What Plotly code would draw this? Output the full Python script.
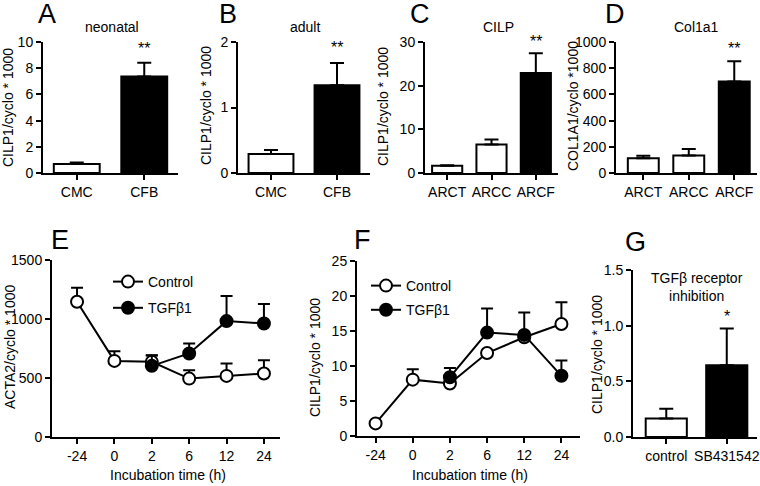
import plotly.graph_objects as go

W, H = 760, 486

# ---------------- data ----------------
a_cats = ["CMC", "CFB"]
a_vals = [0.68, 7.36]
a_err = [0.13, 1.05]

b_cats = ["CMC", "CFB"]
b_vals = [0.29, 1.34]
b_err = [0.06, 0.34]

c_cats = ["ARCT", "ARCC", "ARCF"]
c_vals = [1.65, 6.5, 22.9]
c_err = [0.1, 1.15, 4.5]

d_cats = ["ARCT", "ARCC", "ARCF"]
d_vals = [113, 134, 698]
d_err = [18, 50, 156]

g_cats = ["control", "SB431542"]
g_vals = [0.167, 0.644]
g_err = [0.087, 0.33]

time_labels = ["-24", "0", "2", "6", "12", "24"]
tgf_times = ["2", "6", "12", "24"]

e_ctrl = [1146, 645, 637, 495, 518, 538]
e_ctrl_err = [119, 82, 55, 71, 105, 113]
e_tgf = [603, 708, 982, 962]
e_tgf_err = [88, 84, 212, 165]

f_ctrl = [1.8, 8.05, 7.5, 11.85, 14.1, 16.0]
f_ctrl_err = [0, 1.5, 0.4, 0, 0, 3.1]
f_tgf = [8.4, 14.77, 14.44, 8.6]
f_tgf_err = [1.3, 3.45, 3.2, 2.2]

# significance marks: (panel, category, label, series value, series error, shift)
stars = [
    (1, "CFB", "**", a_vals[1], a_err[1], 4),
    (2, "CFB", "**", b_vals[1], b_err[1], 5),
    (3, "ARCF", "**", c_vals[2], c_err[2], 1),
    (4, "ARCF", "**", d_vals[2], d_err[2], 2),
    (5, "6", "*", e_tgf[1], e_tgf_err[1], 1),
    (5, "12", "**", e_tgf[2], e_tgf_err[2], 1),
    (5, "24", "**", e_tgf[3], e_tgf_err[3], 1),
    (6, "24", "*", f_ctrl[5], f_ctrl_err[5], 2),
    (7, "SB431542", "*", g_vals[1], g_err[1], 2),
]

FONT = "Arial, Liberation Sans, Helvetica, sans-serif"

# panel geometry in pixels
panels = {
    1: dict(x=(43, 178), y=(42, 173), xr=[-0.5, 1.5], yr=[0, 10], yt=[0, 2, 4, 6, 8, 10], fmt=None),
    2: dict(x=(238, 370), y=(42, 173), xr=[-0.5, 1.5], yr=[0, 2], yt=[0, 1, 2], fmt=None),
    3: dict(x=(425, 558), y=(42, 173), xr=[-0.5, 2.5], yr=[0, 30], yt=[0, 10, 20, 30], fmt=None),
    4: dict(x=(616, 757), y=(42, 173), xr=[-0.6, 2.5], yr=[0, 1000], yt=[0, 200, 400, 600, 800, 1000], fmt=None),
    5: dict(x=(52, 280), y=(260, 437), xr=[-0.67, 5.43], yr=[0, 1500], yt=[0, 500, 1000, 1500], fmt=None),
    6: dict(x=(357, 580), y=(261, 436), xr=[-0.5, 5.5], yr=[0, 25], yt=[0, 5, 10, 15, 20, 25], fmt=None),
    7: dict(x=(633, 757), y=(270, 437), xr=[-0.55, 1.5], yr=[0, 1.5], yt=[0, 0.5, 1.0, 1.5], fmt=".1f"),
}

fig = go.Figure()


def ax(i):
    return ("x" if i == 1 else f"x{i}"), ("y" if i == 1 else f"y{i}")


def err(arr, w=7):
    return dict(type="data", symmetric=False, array=arr, arrayminus=[0] * len(arr),
                color="black", thickness=2, width=w)


def add_bars(i, cats, vals, errs, colors):
    xa, ya = ax(i)
    fig.add_trace(go.Bar(x=cats, y=vals, error_y=err(errs), width=0.68,
                         marker=dict(color=colors, line=dict(color="black", width=2)),
                         xaxis=xa, yaxis=ya, showlegend=False))


add_bars(1, a_cats, a_vals, a_err, ["white", "black"])
add_bars(2, b_cats, b_vals, b_err, ["white", "black"])
add_bars(3, c_cats, c_vals, c_err, ["white", "white", "black"])
add_bars(4, d_cats, d_vals, d_err, ["white", "white", "black"])
add_bars(7, g_cats, g_vals, g_err, ["white", "black"])


def add_lines(i, ctrl, ctrl_err, tgf, tgf_err, legend):
    xa, ya = ax(i)
    fig.add_trace(go.Scatter(x=time_labels, y=ctrl, error_y=err(ctrl_err, 6),
                             mode="lines+markers", name="Control",
                             line=dict(color="black", width=2),
                             marker=dict(symbol="circle", size=12, color="white",
                                         line=dict(color="black", width=2)),
                             xaxis=xa, yaxis=ya, legend=legend, legendgroup=f"c{i}"))
    fig.add_trace(go.Scatter(x=tgf_times, y=tgf, error_y=err(tgf_err, 6),
                             mode="lines+markers", name="TGFβ1",
                             line=dict(color="black", width=2),
                             marker=dict(symbol="circle", size=12, color="black",
                                         line=dict(color="black", width=2)),
                             xaxis=xa, yaxis=ya, legend=legend, legendgroup=f"t{i}"))


add_lines(5, e_ctrl, e_ctrl_err, e_tgf, e_tgf_err, "legend")
add_lines(6, f_ctrl, f_ctrl_err, f_tgf, f_tgf_err, "legend2")

layout = dict(width=W, height=H, margin=dict(l=0, r=0, t=0, b=0),
              paper_bgcolor="white", plot_bgcolor="white",
              font=dict(family=FONT, size=14, color="black"),
              template="none")

for i, p in panels.items():
    xk = "xaxis" if i == 1 else f"xaxis{i}"
    yk = "yaxis" if i == 1 else f"yaxis{i}"
    xa, ya = ax(i)
    common = dict(showline=True, linecolor="black", linewidth=2, ticks="outside",
                  ticklen=5, tickwidth=2, tickcolor="black", showgrid=False,
                  zeroline=False, tickfont=dict(size=14, color="black", family=FONT),
                  fixedrange=True, ticklabeloverflow="allow")
    layout[xk] = dict(common, domain=[p["x"][0] / W, p["x"][1] / W], anchor=ya,
                      range=p["xr"], type="category")
    ydict = dict(common, domain=[1 - p["y"][1] / H, 1 - p["y"][0] / H], anchor=xa,
                 range=p["yr"], tickvals=p["yt"])
    if p["fmt"]:
        ydict["tickformat"] = p["fmt"]
    layout[yk] = ydict

layout["legend"] = dict(x=108 / W, y=1 - 266 / H, xanchor="left", yanchor="top",
                        bgcolor="rgba(0,0,0,0)", font=dict(size=14, family=FONT),
                        tracegroupgap=5, traceorder="grouped")
layout["legend2"] = dict(x=366 / W, y=1 - 270 / H, xanchor="left", yanchor="top",
                         bgcolor="rgba(0,0,0,0)", font=dict(size=14, family=FONT),
                         tracegroupgap=3, traceorder="grouped")

fig.update_layout(**layout)

ann = []


def pa(text, x, y, size, angle=0):
    ann.append(dict(text=text, x=x / W, y=1 - y / H, xref="paper", yref="paper",
                    showarrow=False, font=dict(size=size, family=FONT, color="black"),
                    textangle=angle, xanchor="center", yanchor="middle"))


# panel letters
for lt, x, y in [("A", 47, 14), ("B", 228, 14), ("C", 420, 14), ("D", 615, 14),
                 ("E", 60, 240), ("F", 362, 240), ("G", 635, 242)]:
    pa(lt, x, y, 27)

# panel titles
for t, x in [("neonatal", 112), ("adult", 305), ("CILP", 498), ("Col1a1", 696)]:
    pa(t, x, 27, 14)

pa("TGFβ receptor<br>inhibition", 697, 287, 14)

# y-axis titles
for t, x, y in [("CILP1/cyclo * 1000", 8, 108), ("CILP1/cyclo * 1000", 206, 106),
                ("CILP1/cyclo * 1000", 383, 106), ("COL1A1/cyclo *1000", 573, 106),
                ("ACTA2/cyclo * 1000", 10, 347), ("CILP1/cyclo * 1000", 315, 358),
                ("CILP1/cyclo * 1000", 597, 355)]:
    pa(t, x, y, 14, angle=-90)

# x-axis titles
pa("Incubation time (h)", 168, 475, 14)
pa("Incubation time (h)", 470, 475, 14)

# significance stars
for i, cat, lab, v, e, shift in stars:
    xa, ya = ax(i)
    ann.append(dict(text=lab, x=cat, y=v + e, xref=xa, yref=ya, showarrow=False,
                    yanchor="bottom", xanchor="center", yshift=shift,
                    font=dict(size=16, family=FONT, color="black")))

fig.update_layout(annotations=ann)
fig.write_html("out.html", config={"displayModeBar": False},
               post_script="document.body.style.margin='0';document.body.style.overflow='hidden';")
